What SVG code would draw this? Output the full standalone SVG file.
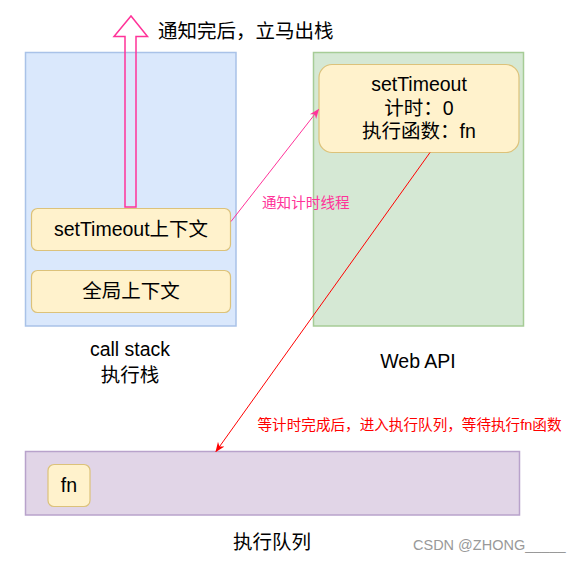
<svg xmlns="http://www.w3.org/2000/svg" width="580" height="561" viewBox="0 0 580 561">
<style>
text{font-family:"Liberation Sans","Noto Sans CJK SC",Arial,sans-serif;fill:#000}
.t{font-size:19.5px}
.s{font-size:14.6px}
.c{text-anchor:middle}
.yel{fill:#fff2cc;stroke:#dcc27a;stroke-width:1.2}
</style>
<defs>
<marker id="ap" viewBox="0 0 10 10" refX="9" refY="5" markerWidth="10" markerHeight="10" markerUnits="userSpaceOnUse" orient="auto">
<path d="M0,1 L10,5 L0,9 L3,5 z" fill="#FF3399"/>
</marker>
<marker id="ar" viewBox="0 0 10 10" refX="9" refY="5" markerWidth="10" markerHeight="10" markerUnits="userSpaceOnUse" orient="auto">
<path d="M0,1 L10,5 L0,9 L3,5 z" fill="#FF0000"/>
</marker>
</defs>
<rect width="580" height="561" fill="#fff"/>

<g id="callstack">
<rect x="25.5" y="52.5" width="210.5" height="273.5" fill="#dae8fc" stroke="#a9c2e8" stroke-width="1.5"/>
</g>
<g id="webapi">
<rect x="313.5" y="52.5" width="210" height="273.5" fill="#d5e8d4" stroke="#a6cc96" stroke-width="1.5"/>
</g>
<g id="queue">
<rect x="25.5" y="451.5" width="494" height="63.5" fill="#e1d5e7" stroke="#b8a2cb" stroke-width="1.5"/>
</g>

<g id="bigarrow">
<path d="M125,207 L125,36.5 L114,36.5 L131,16 L147.5,36.5 L136,36.5 L136,207 Z" fill="none" stroke="#FF3399" stroke-width="1.5"/>
</g>

<g id="ctx-settimeout">
<rect class="yel" x="31.5" y="208.5" width="199" height="42" rx="6"/>
<text class="t c" x="131" y="235.5">setTimeout上下文</text>
</g>
<g id="ctx-global">
<rect class="yel" x="31.5" y="270.5" width="199" height="42" rx="6"/>
<text class="t c" x="131" y="298">全局上下文</text>
</g>
<g id="timer">
<rect class="yel" x="319" y="64.5" width="200" height="88" rx="13"/>
<text class="t c" x="419" y="91">setTimeout</text>
<text class="t c" x="419" y="114.5">计时：0</text>
<text class="t c" x="419" y="138">执行函数：fn</text>
</g>
<g id="fn">
<rect class="yel" x="48" y="464.5" width="42" height="42" rx="6"/>
<text class="t c" x="69" y="492">fn</text>
</g>

<g id="connectors">
<line x1="231" y1="221.5" x2="318.5" y2="109.5" stroke="#FF3399" stroke-width="1" marker-end="url(#ap)"/>
<line x1="430" y1="152.5" x2="216" y2="451.5" stroke="#FF0000" stroke-width="1" marker-end="url(#ar)"/>
</g>

<g id="labels">
<text class="t" x="158" y="38">通知完后，立马出栈</text>
<text class="s" x="262" y="208" style="fill:#FF3399">通知计时线程</text>
<text class="s" x="257.5" y="430" style="fill:#FF0000">等计时完成后，进入执行队列，等待执行fn函数</text>
<text class="t c" x="130" y="356">call stack</text>
<text class="t c" x="130" y="381.5">执行栈</text>
<text class="t c" x="418" y="368">Web API</text>
<text class="t c" x="272" y="548.5">执行队列</text>
<text x="413" y="550" style="font-size:14.5px;fill:#999">CSDN @ZHONG_____</text>
</g>
</svg>
